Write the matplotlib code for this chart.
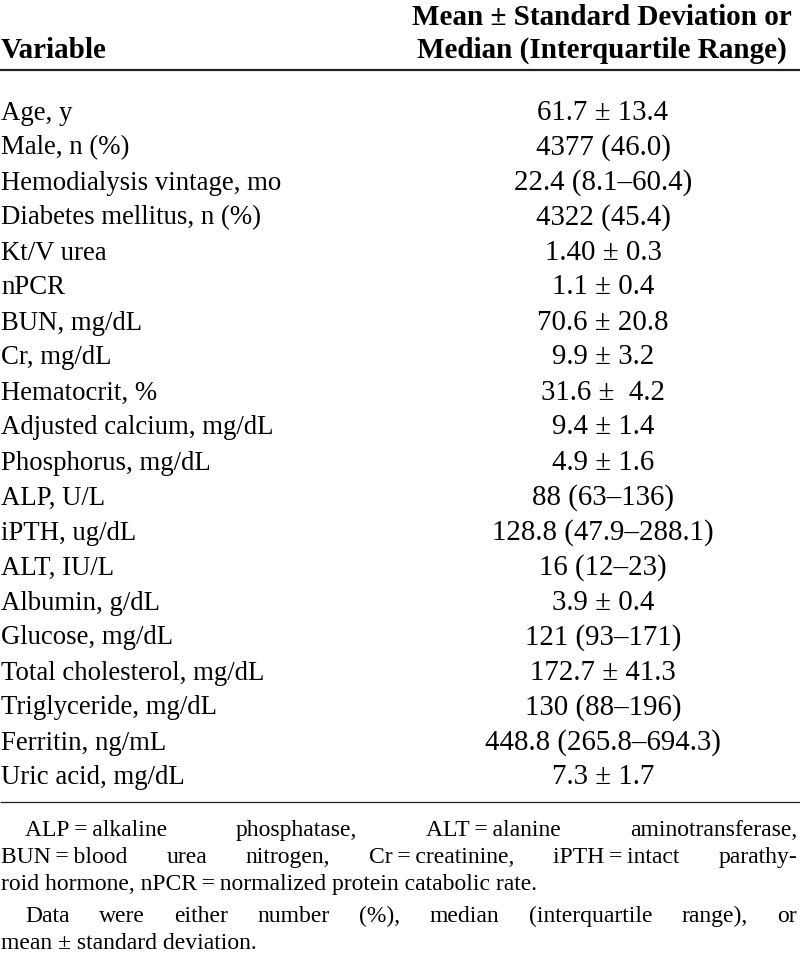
import matplotlib
matplotlib.use("Agg")
import matplotlib.pyplot as plt

# table content
variables = [
    "Age, y", "Male, n (%)", "Hemodialysis vintage, mo", "Diabetes mellitus, n (%)",
    "Kt/V urea", "nPCR", "BUN, mg/dL", "Cr, mg/dL", "Hematocrit, %",
    "Adjusted calcium, mg/dL", "Phosphorus, mg/dL", "ALP, U/L", "iPTH, ug/dL",
    "ALT, IU/L", "Albumin, g/dL", "Glucose, mg/dL", "Total cholesterol, mg/dL",
    "Triglyceride, mg/dL", "Ferritin, ng/mL", "Uric acid, mg/dL",
]
values = [
    "61.7 ± 13.4", "4377 (46.0)", "22.4 (8.1–60.4)", "4322 (45.4)",
    "1.40 ± 0.3", "1.1 ± 0.4", "70.6 ± 20.8", "9.9 ± 3.2", "31.6 ±  4.2",
    "9.4 ± 1.4", "4.9 ± 1.6", "88 (63–136)", "128.8 (47.9–288.1)",
    "16 (12–23)", "3.9 ± 0.4", "121 (93–171)", "172.7 ± 41.3",
    "130 (88–196)", "448.8 (265.8–694.3)", "7.3 ± 1.7",
]
header_left = "Variable"
header_right = ["Mean ± Standard Deviation or", "Median (Interquartile Range)"]

# footnote lines: (text, indent, justified)
footnotes = [
    ("ALP = alkaline phosphatase, ALT = alanine aminotransferase,", True, True),
    ("BUN = blood urea nitrogen, Cr = creatinine, iPTH = intact parathy-", False, True),
    ("roid hormone, nPCR = normalized protein catabolic rate.", False, False),
    ("Data were either number (%), median (interquartile range), or", True, True),
    ("mean ± standard deviation.", False, False),
]

FONT = ["Liberation Serif", "DejaVu Serif"]
FS_HEAD = 21
FS_BODY = 19.3
FS_VAL = 20.8
FS_FOOT = 17

fig = plt.figure(figsize=(8.0, 9.63), dpi=100)
ax = fig.add_axes([0, 0, 1, 1])
ax.set_xlim(0, 800)
ax.set_ylim(963, 0)
ax.axis("off")

# header
ax.text(1, 58, header_left, family=FONT, fontsize=FS_HEAD, weight="bold",
        ha="left", va="baseline")
for i, line in enumerate(header_right):
    ax.text(602, 25 + 33 * i, line, family=FONT, fontsize=FS_HEAD, weight="bold",
            ha="center", va="baseline")

ax.plot([0, 800], [70.5, 70.5], color="#222222", lw=1.6, solid_capstyle="butt")

# body rows
row_base = 119.5
row_step = 35.0
for i, (var, val) in enumerate(zip(variables, values)):
    y = row_base + i * row_step
    ax.text(1, y, var, family=FONT, fontsize=FS_BODY, ha="left", va="baseline")
    ax.text(603, y, val, family=FONT, fontsize=FS_VAL, ha="center", va="baseline")

ax.plot([0, 800], [802.5, 802.5], color="#222222", lw=0.9, solid_capstyle="butt")

# footnotes, justified to the right edge
fig.canvas.draw()
renderer = fig.canvas.get_renderer()
foot_y = [836, 863, 890, 922, 949]
right_edge = 797
for (line, indent, justify), y in zip(footnotes, foot_y):
    x0 = 25 if indent else 1
    words = line.split(" ")
    # keep "X = Y" together as one token, thin spaces round "="
    tokens = []
    for w in words:
        if tokens and (w == "=" or tokens[-1].endswith("=")):
            tokens[-1] = tokens[-1] + "\u2009" + w
        else:
            tokens.append(w)
    if not justify:
        ax.text(x0, y, " ".join(tokens), family=FONT, fontsize=FS_FOOT,
                ha="left", va="baseline")
        continue
    objs = [ax.text(0, y, t, family=FONT, fontsize=FS_FOOT, ha="left", va="baseline")
            for t in tokens]
    widths = [o.get_window_extent(renderer).width for o in objs]
    gap = (right_edge - x0 - sum(widths)) / (len(tokens) - 1)
    x = x0
    for o, w in zip(objs, widths):
        o.set_x(x)
        x += w + gap

fig.savefig("out.png", dpi=100)
